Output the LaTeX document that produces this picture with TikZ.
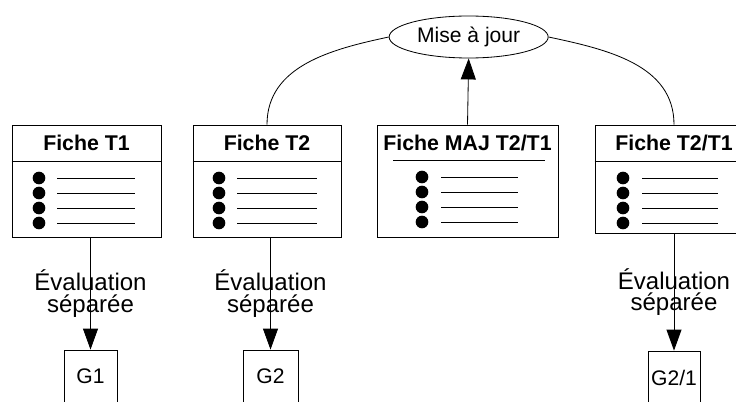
\documentclass[tikz,border=0pt]{standalone}
\usepackage{fontspec}
\setmainfont{Liberation Sans}
\usepackage{tikz}
\usetikzlibrary{positioning, arrows.meta, shapes.geometric, calc}

\begin{document}
\begin{tikzpicture}[line width=0.7pt,
  every node/.style={font=\fontsize{18}{21.5}\selectfont},
  fiche/.style={draw, rectangle, minimum height=3.36cm, inner sep=0pt},
  titre/.style={font=\fontsize{18.2}{21.5}\selectfont\bfseries, inner sep=0pt},
  note/.style={draw, rectangle, minimum height=1.7cm, inner sep=0pt},
  fleche/.style={-{Triangle[length=0.63cm, width=0.45cm]}},
  evalnote/.style={align=center, inner sep=0pt, font=\fontsize{20.5}{18.5}\selectfont}]
  \useasboundingbox (0,0) rectangle (22.08,12.03);
  \clip (0,0) rectangle (22.08,12.03);
  % mise a jour
  \node[draw, ellipse, minimum width=4.77cm, minimum height=1.26cm, inner sep=0pt] (maj) at (14.06,10.92) {Mise à jour};
  % fiches
  \node[fiche, minimum width=4.47cm] (ficheA) at (2.595,6.6) {};
  \node[fiche, minimum width=4.44cm] (ficheB) at (8.01,6.6) {};
  \node[fiche, minimum width=5.43cm] (ficheM) at (14.025,6.6) {};
  \node[fiche, minimum width=4.74cm, minimum height=3.24cm] (ficheC) at (20.22,6.66) {};
  \node[titre] (titreA) at (2.595,7.74) {Fiche T1};
  \node[titre] (titreB) at (8.01,7.74) {Fiche T2};
  \node[titre] (titreM) at (14.025,7.74) {Fiche MAJ T2/T1};
  \node[titre] (titreC) at (20.22,7.74) {Fiche T2/T1};
  % lignes de titre
  \draw (ficheA.west |- 0,7.2) -- (ficheA.east |- 0,7.2);
  \draw (ficheB.west |- 0,7.2) -- (ficheB.east |- 0,7.2);
  \draw (11.79,7.23) -- (16.35,7.23);
  \draw (ficheC.west |- 0,7.2) -- (ficheC.east |- 0,7.2);
  % puces
  \foreach \y in {6.69,6.24,5.79,5.34} {
    \fill (1.17,\y) circle (0.19);
    \draw (1.71,\y) -- (4.05,\y);
    \fill (6.57,\y) circle (0.19);
    \draw (7.11,\y) -- (9.51,\y);
    \fill (18.69,\y) circle (0.19);
    \draw (19.26,\y) -- (21.54,\y);
  }
  \foreach \y in {6.72,6.27,5.82,5.37} {
    \fill (12.66,\y) circle (0.19);
    \draw (13.23,\y) -- (15.54,\y);
  }
  % groupes (ouverts en bas)
  \node[note, minimum width=1.59cm] (gA) at (2.715,0.68) {\raisebox{3pt}{G1}};
  \node[note, minimum width=1.65cm] (gB) at (8.115,0.68) {\raisebox{3pt}{G2}};
  \node[note, minimum width=1.56cm] (gC) at (20.22,0.65) {\raisebox{3pt}{G2/1}};
  % liens
  \draw[fleche] (ficheM.north) -- (maj.south);
  \draw (maj.west) to[out=192, in=90] (ficheB.north);
  \draw (maj.east) to[out=-12, in=90] (ficheC.north);
  \draw[fleche] (ficheA.south -| gA.north) -- node[evalnote] {Évaluation\\séparée} (gA.north);
  \draw[fleche] (ficheB.south -| gB.north) -- node[evalnote] {Évaluation\\séparée} (gB.north);
  \draw[fleche] (ficheC.south -| gC.north) -- node[evalnote] {Évaluation\\séparée} (gC.north);
\end{tikzpicture}
\end{document}
